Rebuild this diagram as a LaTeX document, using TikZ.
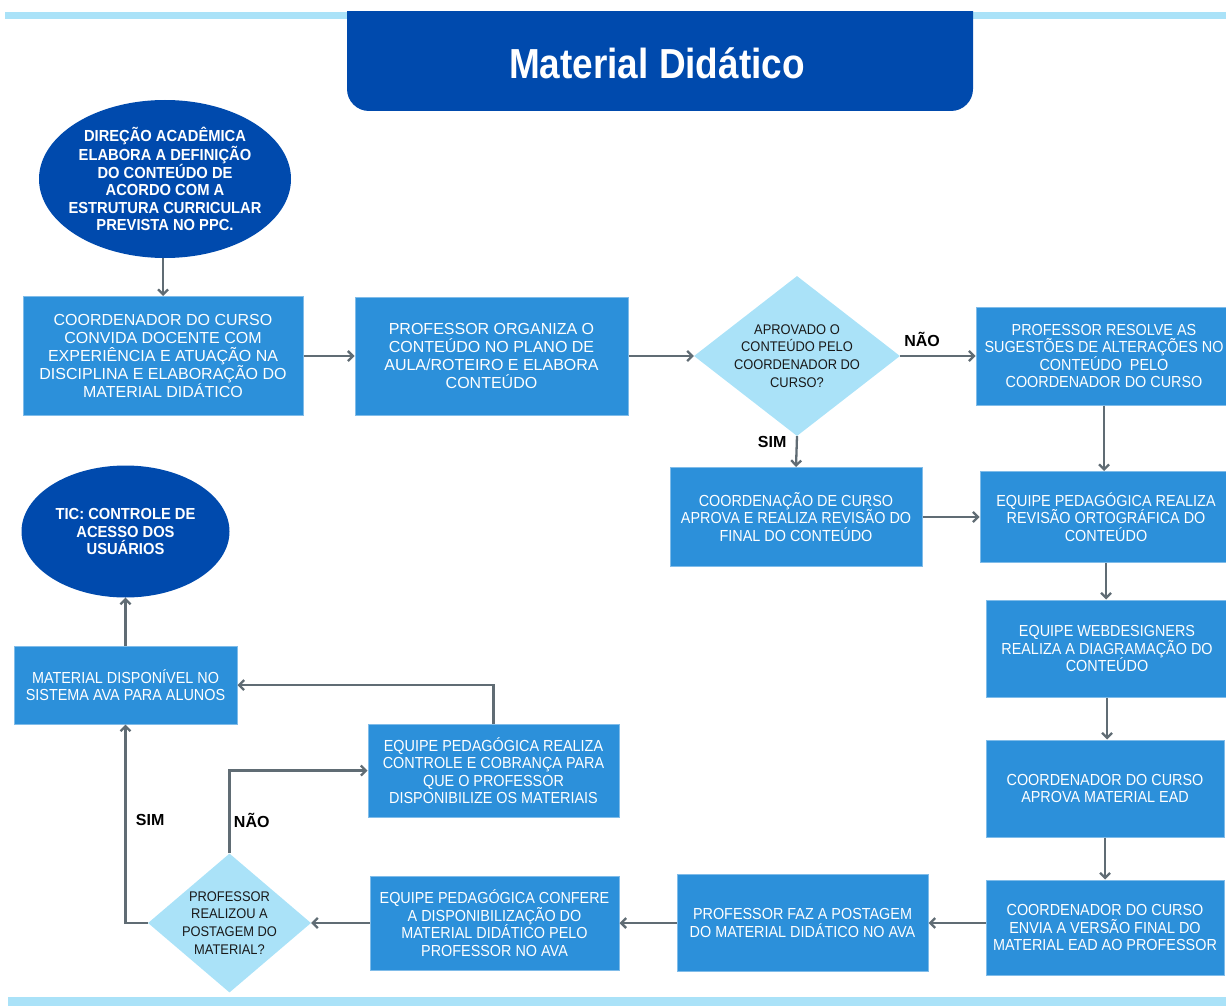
\documentclass[tikz,border=0pt]{standalone}
\usepackage{fontspec}
\setmainfont{Liberation Sans}
\newfontfamily\narrowfont[FakeStretch=0.9]{Liberation Sans}
\newfontfamily\diafont[FakeStretch=0.92]{Liberation Sans}
\newfontfamily\ovalfont[FakeStretch=0.92]{Liberation Sans}
\newfontfamily\titlefont[FakeStretch=0.88]{Liberation Sans}
\usetikzlibrary{shapes.geometric, arrows.meta}

\definecolor{titleblue}{RGB}{0,74,173}
\definecolor{boxblue}{RGB}{44,144,218}
\definecolor{paleblue}{RGB}{170,226,248}
\definecolor{linegray}{RGB}{96,108,116}

\tikzset{
  box/.style={rectangle, fill=boxblue, draw=boxblue!60!white, line width=1pt, text=white,
    align=center, inner sep=0pt, font=\fontsize{16}{17.5}\selectfont\narrowfont},
  widebox/.style={box, font=\fontsize{16}{18}\selectfont},
  oval/.style={ellipse, fill=titleblue, inner sep=0pt},
  ovaltext/.style={text=white, align=center, font=\fontsize{16}{17.3}\selectfont\ovalfont\bfseries},
  decision/.style={diamond, fill=paleblue, inner sep=0pt},
  decisiontext/.style={text=black!90, align=center, font=\fontsize{14}{17.8}\selectfont\diafont},
  flow/.style={draw=linegray, line width=2.3pt, -{Straight Barb[length=5pt, width=10pt]}},
  answer/.style={text=black, font=\fontsize{16}{16}\selectfont\bfseries}
}

\begin{document}
\begin{tikzpicture}[x=1pt, y=-1pt]
  \useasboundingbox (0,0) rectangle (1226,1006);

  % --- Header and footer bars ---
  \fill[paleblue] (5,12) rectangle (1226,19);
  \fill[paleblue] (8,997) rectangle (1226,1006);
  \begin{scope}
    \clip (0,12) rectangle (1226,1006);
    \fill[titleblue, rounded corners=22] (347,-40) rectangle (973,111);
  \end{scope}
  \node[text=white, font=\fontsize{42}{42}\selectfont\titlefont\bfseries] (titulo) at (657,63) {Material Didático};

  % --- Top row ---
  \node[oval, minimum width=252, minimum height=158,
    label={[ovaltext]center:{DIREÇÃO ACADÊMICA\\ELABORA A DEFINIÇÃO\\DO CONTEÚDO DE\\ACORDO COM A\\ESTRUTURA CURRICULAR\\PREVISTA NO PPC.}}]
    (direcao) at (165,179) {};
  \node[widebox, minimum width=280, minimum height=119] (convida) at (163,356)
    {COORDENADOR DO CURSO\\CONVIDA DOCENTE COM\\EXPERIÊNCIA E ATUAÇÃO NA\\DISCIPLINA E ELABORAÇÃO DO\\MATERIAL DIDÁTICO};
  \node[widebox, minimum width=273, minimum height=118] (organiza) at (491.5,356)
    {PROFESSOR ORGANIZA O\\CONTEÚDO NO PLANO DE\\AULA/ROTEIRO E ELABORA\\CONTEÚDO};
  \node[decision, minimum width=206, minimum height=160,
    label={[decisiontext]center:{APROVADO O\\CONTEÚDO PELO\\COORDENADOR DO\\CURSO?}}]
    (aprovado) at (797,356) {};
  \node[box, minimum width=256, minimum height=98] (resolve) at (1104,356)
    {PROFESSOR RESOLVE AS\\SUGESTÕES DE ALTERAÇÕES NO\\CONTEÚDO\ \ PELO\\COORDENADOR DO CURSO};

  % --- Right column ---
  \node[box, minimum width=252, minimum height=99] (revisao) at (796,517)
    {COORDENAÇÃO DE CURSO\\APROVA E REALIZA REVISÃO DO\\FINAL DO CONTEÚDO};
  \node[box, minimum width=252, minimum height=91] (ortografia) at (1106,517)
    {EQUIPE PEDAGÓGICA REALIZA\\REVISÃO ORTOGRÁFICA DO\\CONTEÚDO};
  \node[box, minimum width=242, minimum height=97] (diagramacao) at (1107,648.5)
    {EQUIPE WEBDESIGNERS\\REALIZA A DIAGRAMAÇÃO DO\\CONTEÚDO};
  \node[box, minimum width=238, minimum height=97] (aprovaead) at (1105,788.5)
    {COORDENADOR DO CURSO\\APROVA MATERIAL EAD};
  \node[box, minimum width=238, minimum height=95] (enviaead) at (1105,927.5)
    {COORDENADOR DO CURSO\\ENVIA A VERSÃO FINAL DO\\MATERIAL EAD AO PROFESSOR};

  % --- Bottom row ---
  \node[box, minimum width=251, minimum height=97] (postagem) at (802.5,923)
    {PROFESSOR FAZ A POSTAGEM\\DO MATERIAL DIDÁTICO NO AVA};
  \node[box, minimum width=249, minimum height=94] (confere) at (494.5,923)
    {EQUIPE PEDAGÓGICA CONFERE\\A DISPONIBILIZAÇÃO DO\\MATERIAL DIDÁTICO PELO\\PROFESSOR NO AVA};
  \node[decision, minimum width=163, minimum height=139,
    label={[decisiontext]center:{PROFESSOR\\REALIZOU A\\POSTAGEM DO\\MATERIAL?}}]
    (realizou) at (229.5,923) {};

  % --- Left column ---
  \node[box, minimum width=251, minimum height=93] (cobranca) at (493.5,770.5)
    {EQUIPE PEDAGÓGICA REALIZA\\CONTROLE E COBRANÇA PARA\\QUE O PROFESSOR\\DISPONIBILIZE OS MATERIAIS};
  \node[box, minimum width=223, minimum height=78] (disponivel) at (125.5,685)
    {MATERIAL DISPONÍVEL NO\\SISTEMA AVA PARA ALUNOS};
  \node[oval, minimum width=208, minimum height=132,
    label={[ovaltext]center:{TIC: CONTROLE DE\\ACESSO DOS\\USUÁRIOS}}]
    (tic) at (125.5,531.5) {};

  % --- Connectors ---
  \draw[flow] (convida.north |- direcao.south) -- (convida.north);
  \draw[flow] (convida.east) -- (organiza.west);
  \draw[flow] (organiza.east) -- (aprovado.west);
  \draw[flow] (aprovado.east) -- (resolve.west) node[answer, pos=0.29, above=5pt] {NÃO};
  \draw[flow] (aprovado.south) -- (revisao.north) node[answer, pos=0.19, left=6pt] {SIM};
  \draw[flow] (resolve.south) -- (resolve.south |- ortografia.north);
  \draw[flow] (revisao.east) -- (ortografia.west);
  \draw[flow] (ortografia.south) -- (ortografia.south |- diagramacao.north);
  \draw[flow] (diagramacao.south) -- (diagramacao.south |- aprovaead.north);
  \draw[flow] (aprovaead.south) -- (enviaead.north);
  \draw[flow] (enviaead.west |- postagem.east) -- (postagem.east);
  \draw[flow] (postagem.west) -- (confere.east);
  \draw[flow] (confere.west) -- (realizou.east);
  \draw[flow] (realizou.west) -| (disponivel.south) node[answer, pos=0.76, right=6pt] {SIM};
  \draw[flow] (realizou.north) |- (cobranca.west) node[answer, pos=0.2, right=0pt] {NÃO};
  \draw[flow] (cobranca.north) |- (disponivel.east);
  \draw[flow] (disponivel.north) -- (tic.south);

\end{tikzpicture}
\end{document}
